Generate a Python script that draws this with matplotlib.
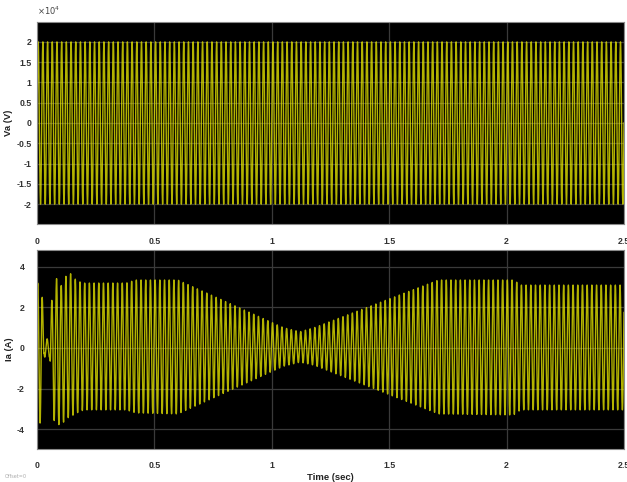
import numpy as np
import matplotlib
matplotlib.use("Agg")
import matplotlib.pyplot as plt
from matplotlib.ticker import FuncFormatter

# supply frequency and sampling of the scope trace
freq_hz = 50.0
t_end = 2.5
dt = 1e-4

# phase voltage peak (V), constant over the run
va_peak = 2.0e4

# phase current envelope (s, A)
env_t = [0.0, 0.02, 0.03, 0.055, 0.06, 0.075, 0.09, 0.10, 0.12, 0.14, 0.17, 0.20,
         0.38, 0.42, 0.60, 1.05, 1.12, 1.18, 1.71, 2.03, 2.06, 2.5]
ia_upper = [3.2, 3.2, 0.45, 0.45, 2.2, 2.9, 3.85, 3.0, 3.5, 3.7, 3.3, 3.2,
            3.2, 3.35, 3.35, 1.0, 0.8, 1.0, 3.35, 3.35, 3.1, 3.1]
ia_lower = [3.7, 3.7, 0.45, 0.45, 3.4, 3.6, 3.7, 3.95, 3.5, 3.4, 3.2, 3.05,
            3.05, 3.2, 3.25, 0.9, 0.7, 0.85, 3.25, 3.3, 3.05, 3.05]

xticks = [0, 0.5, 1, 1.5, 2, 2.5]
va_yticks = [-2e4, -1.5e4, -1e4, -0.5e4, 0, 0.5e4, 1e4, 1.5e4, 2e4]
ia_yticks = [-4, -2, 0, 2, 4]

t = np.arange(0, t_end + dt, dt)
carrier = np.sin(2 * np.pi * freq_hz * t)
va = va_peak * carrier
ia_carrier = np.sin(2 * np.pi * freq_hz * t + 0.6)
up = np.interp(t, env_t, ia_upper)
lo = np.interp(t, env_t, ia_lower)
ia = np.where(ia_carrier > 0, up * ia_carrier, lo * ia_carrier)

W, H = 627, 482
fig = plt.figure(figsize=(W / 100, H / 100), dpi=100)
fig.patch.set_facecolor("white")

tick_font = dict(fontsize=6.3, fontweight="bold", color="#333333", family="Liberation Sans")
trace = dict(color="#f0f000", linewidth=1.0, alpha=0.75)


def style(ax):
    ax.set_facecolor("black")
    ax.set_xlim(0, 2.5)
    ax.set_xticks(xticks)
    ax.set_xticklabels([f"{x:g}" for x in xticks], **tick_font)
    ax.tick_params(length=0, pad=9)
    ax.grid(True, color="#3a3a3a", linewidth=0.9)
    ax.set_axisbelow(True)
    for s in ax.spines.values():
        s.set_color("#8a8a8a")
        s.set_linewidth(0.8)


ax1 = fig.add_axes([37 / W, (H - 224) / H, 587 / W, 202 / H])
ax1.plot(t, va, **trace)
style(ax1)
ax1.set_ylim(-2.49e4, 2.49e4)
ax1.set_yticks(va_yticks)
ax1.yaxis.set_major_formatter(FuncFormatter(lambda v, p: f"{v / 1e4:g}"))
for lab in ax1.get_yticklabels():
    lab.set(**tick_font)
ax1.tick_params(axis="y", pad=4)
ax1.set_ylabel("Va (V)", fontsize=6.8, fontweight="bold", color="#222222",
               family="Liberation Sans", labelpad=2)
ax1.text(0.0, 1.025, r"$\times10^4$", transform=ax1.transAxes, fontsize=6,
         color="#444444", ha="left", va="bottom")

ax2 = fig.add_axes([37 / W, (H - 449) / H, 587 / W, 199 / H])
ax2.plot(t, ia, **trace)
style(ax2)
ax2.set_ylim(-4.98, 4.83)
ax2.set_yticks(ia_yticks)
ax2.set_yticklabels([f"{y:g}" for y in ia_yticks], **tick_font)
ax2.tick_params(axis="y", pad=9)
ax2.set_ylabel("Ia (A)", fontsize=6.8, fontweight="bold", color="#222222",
               family="Liberation Sans", labelpad=2)
ax2.set_xlabel("Time (sec)", fontsize=6.8, fontweight="bold", color="#222222",
               family="Liberation Sans", labelpad=2)

fig.text(5 / W, 4 / H, "Offset=0", fontsize=3.5, color="#aaaaaa")

fig.savefig("out.png", dpi=100, facecolor="white")
